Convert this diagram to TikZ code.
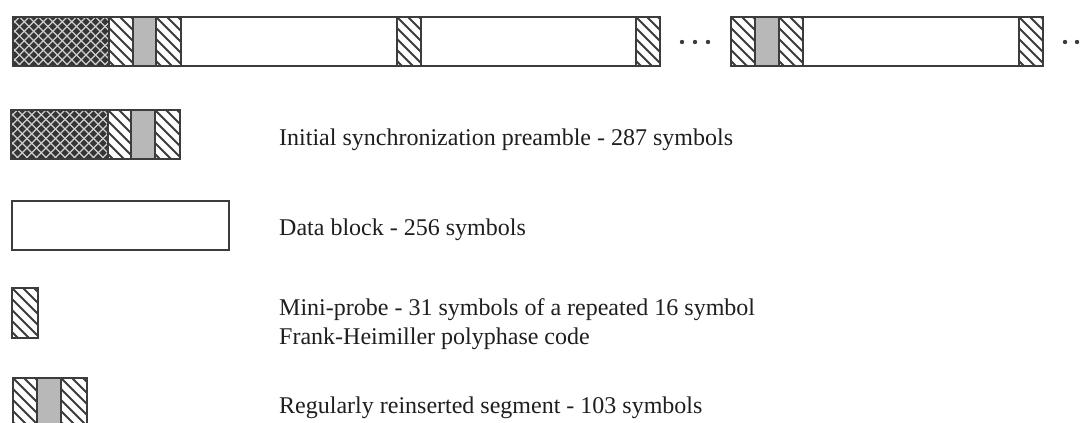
\documentclass[tikz,border=0pt]{standalone}
\usepackage{fontspec}
\setmainfont{Liberation Serif}
\definecolor{edgec}{HTML}{3C3C3C}
\definecolor{crossbg}{HTML}{353535}
\definecolor{crossln}{HTML}{D0D0D0}
\definecolor{stipc}{HTML}{B8B8B8}
\definecolor{txtc}{HTML}{1E1E1E}
\tikzset{
  boxedge/.style={draw=edgec, line width=2pt},
  hatchline/.style={draw=edgec, line width=1.8pt},
  crossline/.style={draw=crossln, line width=1.4pt},
  lbl/.style={font=\fontsize{24}{28}\selectfont, text=txtc, inner sep=0pt, anchor=base west},
}
\newcommand\hatchrect[4]{%
  \begin{scope}
    \clip (#1,#2) rectangle (#3,#4);
    \foreach \t in {-66,-55,...,40} {\draw[hatchline] (#1+\t,#2) -- ++(70,70);}
  \end{scope}
  \draw[boxedge] (#1,#2) rectangle (#3,#4);
}
\newcommand\crossrect[4]{%
  \fill[crossbg] (#1,#2) rectangle (#3,#4);
  \begin{scope}
    \clip (#1,#2) rectangle (#3,#4);
    \foreach \t in {-60,-50.5,...,170} {
      \draw[crossline] (#1+\t,#2) -- ++(70,70);
      \draw[crossline] (#1+\t,#2) -- ++(-70,70);
    }
  \end{scope}
  \draw[boxedge] (#1,#2) rectangle (#3,#4);
}
\newcommand\stiprect[4]{%
  \fill[stipc] (#1,#2) rectangle (#3,#4);
  \draw[boxedge] (#1,#2) rectangle (#3,#4);
}
\newcommand\plainrect[4]{%
  \draw[boxedge, fill=white] (#1,#2) rectangle (#3,#4);
}
\begin{document}
\begin{tikzpicture}[x=1pt, y=-1pt]
  \fill[white] (0,0) rectangle (1085,423);
  \useasboundingbox (0,0) rectangle (1085,423);

  % ---- top frame sequence, bar 1 ----
  \plainrect{13}{17}{660}{66}
  \crossrect{13}{17}{109}{66}
  \hatchrect{109}{17}{133}{66}
  \stiprect{133}{17}{156}{66}
  \hatchrect{156}{17}{181}{66}
  \hatchrect{397}{17}{421}{66}
  \hatchrect{636}{17}{660}{66}
  \draw[boxedge] (13,17) rectangle (660,66);

  % dots
  \foreach \x in {682,695,708} {\fill[edgec] (\x,42) circle (2.2);}

  % ---- bar 2 ----
  \plainrect{731}{17}{1043}{66}
  \hatchrect{731}{17}{755}{66}
  \stiprect{755}{17}{779}{66}
  \hatchrect{779}{17}{803}{66}
  \hatchrect{1019}{17}{1043}{66}
  \draw[boxedge] (731,17) rectangle (1043,66);

  \foreach \x in {1065,1077} {\fill[edgec] (\x,42) circle (2.2);}

  % ---- legend ----
  \crossrect{11}{110}{108}{159}
  \hatchrect{108}{110}{131}{159}
  \stiprect{131}{110}{155}{159}
  \hatchrect{155}{110}{180}{159}
  \draw[boxedge] (11,110) rectangle (180,159);
  \node[lbl] (preamble) at (279,145) {Initial synchronization preamble - 287 symbols};

  \plainrect{12}{201}{229}{250}
  \node[lbl] (data) at (279,235) {Data block - 256 symbols};

  \hatchrect{12}{288}{38}{338}
  \node[lbl] (probe1) at (279,315) {Mini-probe - 31 symbols of a repeated 16 symbol};
  \node[lbl] (probe2) at (279,344) {Frank-Heimiller polyphase code};

  \hatchrect{13}{378}{37}{432}
  \stiprect{37}{378}{61}{432}
  \hatchrect{61}{378}{87}{432}
  \node[lbl] (segment) at (279,413) {Regularly reinserted segment - 103 symbols};
\end{tikzpicture}
\end{document}
